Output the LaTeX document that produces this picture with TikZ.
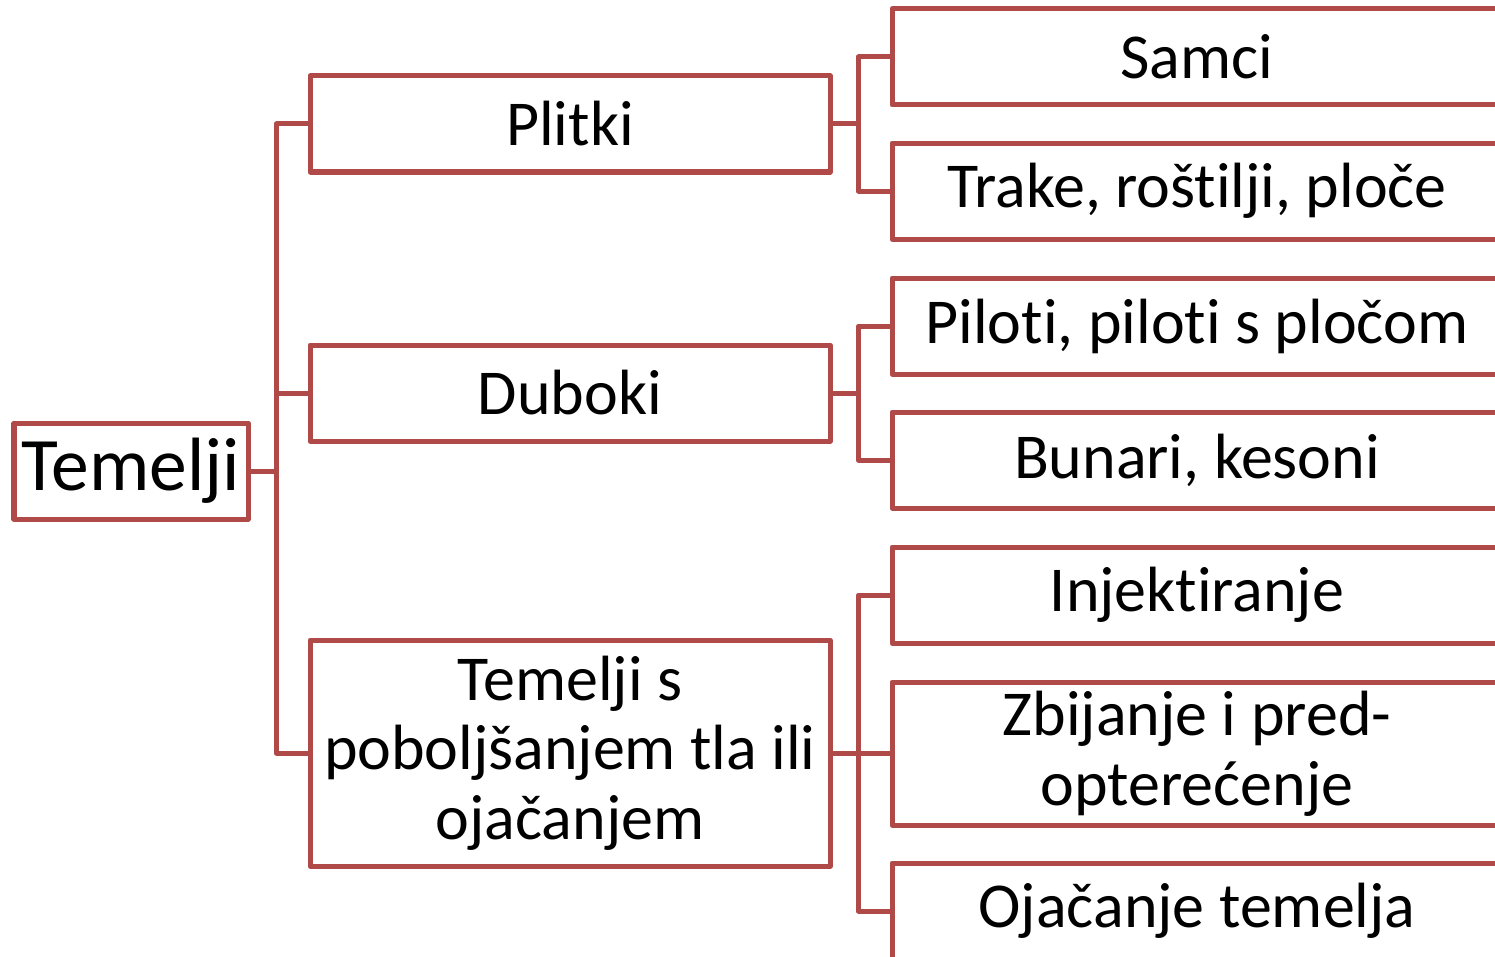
\documentclass[tikz,border=0pt]{standalone}
\usepackage{fontspec}
\setmainfont{Carlito}[Ligatures={NoCommon}]
\usepackage{tikz}

\definecolor{boxred}{RGB}{176,74,72}
\newcommand{\nolig}{\kern0pt }
\tikzset{
  box/.style={draw=boxred, line width=0.1cm, line join=round, align=center,
    minimum height=1.92cm, inner sep=0pt, font=\fontsize{36.4}{39.6}\selectfont},
  link/.style={draw=boxred, line width=0.1cm, line join=round}
}

\begin{document}
\begin{tikzpicture}
            \clip (0,0) rectangle (29.9,-19.14);

            \node[box, minimum width=4.68cm, font=\fontsize{43}{46}\selectfont] (temelji) at (2.62,-9.42) {Temelji};

            \node[box, minimum width=10.4cm] (plitki) at (11.4,-2.48) {Plitki};
            \node[box, minimum width=10.4cm] (duboki) at (11.4,-7.86) {Duboki};
            \node[box, minimum width=10.4cm, minimum height=4.52cm] (poboljsanje) at (11.4,-15.06) {Temelji s\\poboljšanjem tla ili\\ojačanjem};

            \node[box, minimum width=12.2cm] (samci) at (23.94,-1.14) {Samci};
            \node[box, minimum width=12.2cm] (trake) at (23.94,-3.82) {Trake, rošt\nolig ilji, ploče};
            \node[box, minimum width=12.2cm] (piloti) at (23.94,-6.52) {Pilot\nolig i, pilot\nolig i s pločom};
            \node[box, minimum width=12.2cm] (bunari) at (23.94,-9.2) {Bunari, kesoni};
            \node[box, minimum width=12.2cm] (injektiranje) at (23.94,-11.9) {Injekt\nolig iranje};
            \node[box, minimum width=12.2cm, minimum height=2.86cm] (zbijanje) at (23.94,-15.07) {Zbijanje i pred-\\opterećenje};
            \node[box, minimum width=12.2cm] (ojacanje) at (23.94,-18.22) {Ojačanje temelja};

            \draw[link] (plitki.west) -- ++(-0.62,0) |- (temelji.east);
            \draw[link] (duboki.west) -- ++(-0.62,0) |- (temelji.east);
            \draw[link] (poboljsanje.west) -- ++(-0.62,0) |- (temelji.east);

            \draw[link] (samci.west) -- ++(-0.62,0) |- (plitki.east);
            \draw[link] (trake.west) -- ++(-0.62,0) |- (plitki.east);
            \draw[link] (piloti.west) -- ++(-0.62,0) |- (duboki.east);
            \draw[link] (bunari.west) -- ++(-0.62,0) |- (duboki.east);
            \draw[link] (injektiranje.west) -- ++(-0.62,0) |- (poboljsanje.east);
            \draw[link] (zbijanje.west) -- ++(-0.62,0) |- (poboljsanje.east);
            \draw[link] (ojacanje.west) -- ++(-0.62,0) |- (poboljsanje.east);
\end{tikzpicture}
\end{document}
